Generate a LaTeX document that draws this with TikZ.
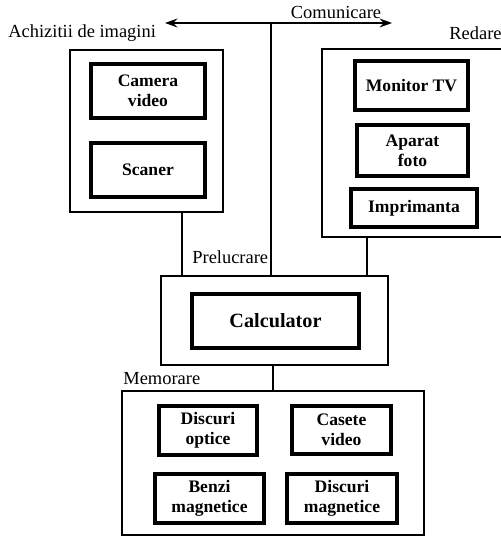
\documentclass[tikz,border=0pt]{standalone}
\usepackage{fontspec}
\setmainfont{Liberation Serif}[Ligatures=TeX]
\newfontfamily\timesf{Liberation Serif}
\usetikzlibrary{arrows.meta}

\begin{document}
\begin{tikzpicture}[x=0.02cm,y=-0.02cm,
   grup/.style={draw,line width=1.1pt,inner sep=0pt},
   elem/.style={draw,line width=2pt,inner sep=0pt,align=center,
                font=\timesf\bfseries\fontsize{10}{11.5}\selectfont},
   eticheta/.style={inner sep=0pt,font=\timesf\fontsize{10.5}{12}\selectfont},
   legatura/.style={line width=1.1pt}]
   \useasboundingbox (0,0) rectangle (500,536);
   % blocuri mari
   \node[grup,minimum width=3.06cm,minimum height=3.24cm] (achiz) at (146.5,131) {};
   \node[grup,minimum width=3.62cm,minimum height=3.76cm] (redare) at (412.5,143) {};
   \node[grup,minimum width=4.54cm,minimum height=1.78cm] (prel) at (274.5,320.5) {};
   \node[grup,minimum width=6.04cm,minimum height=2.88cm] (mem) at (273,463) {};
   % echipamente
   \node[elem,minimum width=2.28cm,minimum height=1.08cm] (camera) at (148,91) {Camera\\video};
   \node[elem,minimum width=2.28cm,minimum height=1.08cm] (scaner) at (148,170) {Scaner};
   \node[elem,minimum width=2.26cm,minimum height=0.98cm] (monitor) at (411.5,85.5) {Monitor TV};
   \node[elem,minimum width=2.22cm,minimum height=1.02cm] (foto) at (412.5,150.5) {Aparat\\foto};
   \node[elem,minimum width=2.52cm,minimum height=0.76cm] (impr) at (414,208) {Imprimanta};
   \node[elem,minimum width=3.34cm,minimum height=1.08cm,
         font=\timesf\bfseries\fontsize{11.5}{13}\selectfont] (calc) at (275.5,321) {Calculator};
   \node[elem,minimum width=1.96cm,minimum height=0.98cm] (dopt) at (208,430.5) {Discuri\\optice};
   \node[elem,minimum width=1.98cm,minimum height=0.96cm] (caset) at (341.5,430) {Casete\\video};
   \node[elem,minimum width=2.18cm,minimum height=0.98cm] (benzi) at (209.5,498.5) {Benzi\\magnetice};
   \node[elem,minimum width=2.20cm,minimum height=0.98cm] (dmag) at (342,498.5) {Discuri\\magnetice};
   % etichete
   \node[eticheta,anchor=west] (tAchiz) at (8,33) {Achizitii de imagini};
   \node[eticheta,anchor=west] (tRedare) at (449,33) {Redare};
   \node[eticheta] (tComun) at (336,12) {Comunicare};
   \node[eticheta,anchor=west] (tPrel) at (192,257) {Prelucrare};
   \node[eticheta,anchor=west] (tMem) at (123,379) {Memorare};
   % legaturi
   \coordinate (comS) at (165,23);
   \coordinate (comD) at (392,23);
   \coordinate (comM) at (271,23);
   \draw[legatura,{Stealth[length=7pt,width=5pt]}-{Stealth[length=7pt,width=5pt]}] (comS) -- (comD);
   \draw[legatura] (comM) -- (comM |- prel.north);
   \draw[legatura] ([xshift=0.71cm]achiz.south) -- ([xshift=0.71cm]achiz.south |- prel.north);
   \draw[legatura] ([xshift=-0.91cm]redare.south) -- ([xshift=-0.91cm]redare.south |- prel.north);
   \draw[legatura] ([xshift=-0.03cm]prel.south) -- ([xshift=-0.03cm]prel.south |- mem.north);
\end{tikzpicture}
\end{document}
